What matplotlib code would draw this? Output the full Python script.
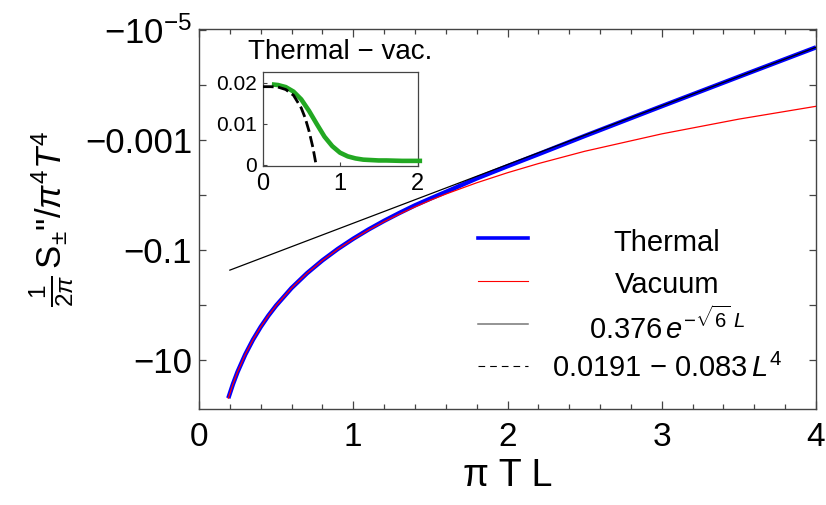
import numpy as np
import matplotlib
matplotlib.use("Agg")
import matplotlib.pyplot as plt
from matplotlib.ticker import FixedLocator, FixedFormatter, NullLocator, MultipleLocator

plt.rcParams['font.family'] = ['Liberation Sans', 'DejaVu Sans']
plt.rcParams['mathtext.fontset'] = 'custom'
plt.rcParams['mathtext.rm'] = 'Liberation Sans'
plt.rcParams['mathtext.it'] = 'Liberation Sans:italic'
plt.rcParams['mathtext.bf'] = 'Liberation Sans:bold'
plt.rcParams['mathtext.sf'] = 'Liberation Sans'

# ---- data ----
L_main = [0.19, 0.22, 0.25, 0.3, 0.35, 0.4, 0.45, 0.5, 0.6, 0.7, 0.8, 0.9, 1.0,
          1.1, 1.2, 1.3, 1.4, 1.5, 1.6, 1.8, 2.0, 2.2, 2.5, 3.0, 3.5, 4.0]
thermal = [-48.3, -26.9, -16.1, -7.78, -4.20, -2.46, -1.536, -1.01, -0.486, -0.262,
           -0.153, -0.095, -0.062, -0.042, -0.0294, -0.0211, -0.0154, -0.0116,
           -0.0088, -0.0050, -0.0030, -0.00182, -8.5e-4, -2.45e-4, -7.15e-5, -2.1e-5]
vacuum = [-48.3, -26.9, -16.1, -7.78, -4.20, -2.46, -1.536, -1.01, -0.486, -0.262,
          -0.154, -0.096, -0.063, -0.043, -0.0304, -0.0221, -0.0164, -0.0124,
          -0.0096, -0.0060, -0.00394, -0.00269, -0.00161, -7.78e-4, -4.20e-4, -2.46e-4]
L_exp = [0.2, 4.0]
exp_fit = [-0.230, -2.09e-5]

L_inset = [0.15, 0.2, 0.3, 0.4, 0.5, 0.6, 0.7, 0.8, 0.9, 1.0, 1.1, 1.2, 1.3, 1.4,
           1.5, 1.6, 1.8, 2.03]
thermal_minus_vac = [0.0196, 0.0195, 0.0190, 0.0179, 0.0160, 0.0132, 0.0100, 0.0069,
                     0.0046, 0.0030, 0.0021, 0.0016, 0.0013, 0.0012, 0.0011, 0.0011,
                     0.0010, 0.0010]
L_poly = [0.0, 0.1, 0.2, 0.3, 0.4, 0.5, 0.55, 0.6, 0.65, 0.692]
poly_fit = [0.0191, 0.0191, 0.0190, 0.0184, 0.0170, 0.0139, 0.0115, 0.0083, 0.0043, 0.0]

y_ticks = [1e-5, 1e-4, 1e-3, 1e-2, 1e-1, 1e0, 1e1]
y_tick_labels = ['$\u2212\\mathregular{10^{-5}}$', '', '\u22120.001', '', '\u22120.1', '', '\u221210']
x_ticks = [0, 1, 2, 3, 4]
legend_labels = ['Thermal', 'Vacuum', r'0.376$\,\mathit{e}^{-\sqrt{6}\ L}$',
                 '0.0191 \u2212 0.083$\\,\\mathit{L}^{4}$']

W, H = 826, 505
fig = plt.figure(figsize=(W / 100, H / 100), dpi=100)

def px_rect(x0, y0, x1, y1):
    return [x0 / W, 1 - y1 / H, (x1 - x0) / W, (y1 - y0) / H]

ax = fig.add_axes(px_rect(199, 28.5, 816, 409))
spine_col = '#444444'

ax.plot(L_main, -np.array(thermal), color='#0000ff', lw=3.2, solid_capstyle='butt', zorder=3)
ax.plot(L_main, -np.array(vacuum), color='#ff0000', lw=0.9, zorder=4)
ax.plot(L_exp, -np.array(exp_fit), color='black', lw=0.9, zorder=5)

ax.set_yscale('log')
ax.set_ylim(10 ** 1.88, 10 ** -5.02)
ax.set_xlim(0, 4)
ax.yaxis.set_major_locator(FixedLocator(y_ticks))
ax.yaxis.set_major_formatter(FixedFormatter(y_tick_labels))
ax.yaxis.set_minor_locator(NullLocator())
ax.xaxis.set_major_locator(FixedLocator(x_ticks))
ax.xaxis.set_minor_locator(MultipleLocator(0.2))

for s in ax.spines.values():
    s.set_color(spine_col)
    s.set_linewidth(1.0)
ax.tick_params(which='both', direction='in', top=True, right=True, color=spine_col, width=0.9)
ax.tick_params(axis='x', which='major', length=6, labelsize=24, pad=9)
ax.tick_params(axis='x', which='minor', length=3.5)
ax.tick_params(axis='y', which='major', length=5, labelsize=25, pad=5)

ax.set_xlabel('\u03c0 T L', fontsize=27, labelpad=4)
ax.set_ylabel(r'$\frac{1}{2\pi}\,\mathrm{S}_{\pm}$"$/\pi^{4}\mathit{T}^{4}$', fontsize=25, labelpad=6)

# legend (manual, centered text like the original)
handles = [dict(color='#0000ff', lw=2.6, ls='-'),
           dict(color='#ff0000', lw=0.8, ls='-'),
           dict(color='#777777', lw=1.1, ls='-'),
           dict(color='black', lw=0.8, ls=(0, (6, 4.5)))]
line_y = [238, 281, 324, 366]
text_base = [251, 293, 339, 377]
for h, ly, tb, lab in zip(handles, line_y, text_base, legend_labels):
    fig.add_artist(plt.Line2D([478 / W, 528 / W], [1 - ly / H, 1 - ly / H],
                              transform=fig.transFigure, **h))
    fig.text(667 / W, 1 - tb / H, lab, ha='center', va='baseline', fontsize=21)

# inset
axi = fig.add_axes(px_rect(262.5, 71.5, 417.5, 166))
axi.plot(L_inset, thermal_minus_vac, color='#22a822', lw=3.3, zorder=3, clip_on=False)
dl, = axi.plot(L_poly, poly_fit, color='black', lw=2.0, zorder=4)
dl.set_dashes([4, 1.6])
axi.set_xlim(0, 2)
axi.set_ylim(-0.00025, 0.0228)
axi.set_xticks([0, 1, 2])
axi.set_yticks([0, 0.01, 0.02])
axi.set_yticklabels(['0', '0.01', '0.02'])
axi.set_xticklabels(['0', '1', '2'])
for s in axi.spines.values():
    s.set_color(spine_col)
    s.set_linewidth(0.9)
axi.tick_params(direction='in', length=3, color=spine_col, width=0.8, labelsize=15, pad=4)
axi.tick_params(axis='x', labelsize=17, pad=5)
axi.set_title('Thermal \u2212 vac.', fontsize=20, pad=9)

fig.savefig('out.png', dpi=100)
